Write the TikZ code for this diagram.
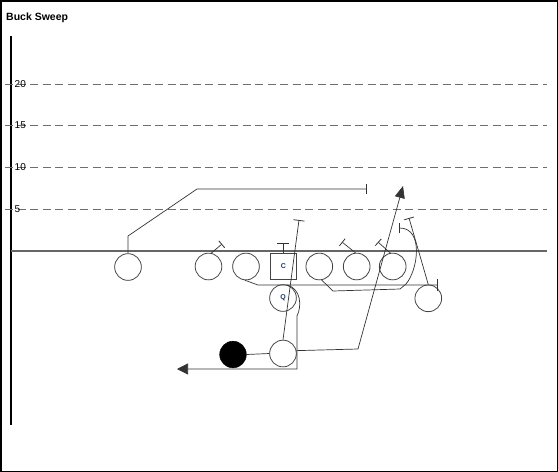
\documentclass[tikz,border=0pt]{standalone}
\usepackage{fontspec}
\setmainfont{Liberation Sans}
\usetikzlibrary{arrows.meta}
\definecolor{gridgray}{HTML}{6E6E6E}
\definecolor{losgray}{HTML}{666666}
\definecolor{playline}{HTML}{444444}
\definecolor{routeline}{HTML}{333333}
\definecolor{lblblue}{HTML}{1F3A66}
\tikzset{
  player/.style={circle, draw=playline, line width=0.8pt, fill=white, minimum size=26.7pt, inner sep=0pt},
  ballcarrier/.style={circle, draw=black, fill=black, minimum size=26.7pt, inner sep=0pt},
  centerbox/.style={rectangle, draw=playline, line width=0.8pt, fill=white, minimum size=26.5pt, inner sep=0pt, font=\fontsize{7}{8}\selectfont\bfseries, text=lblblue},
  qblabel/.style={font=\fontsize{7}{8}\selectfont\bfseries, text=lblblue},
  route/.style={draw=routeline, line width=0.7pt},
  blk/.style={route, -{Bar[width=#1, line width=0.8pt]}},
  blk/.default=10pt,
  runarrow/.style={route, -{Triangle[length=12pt, width=10pt]}},
  yardline/.style={draw=gridgray, line width=0.9pt, dash pattern=on 8pt off 4.5pt},
  yardlbl/.style={anchor=west, inner sep=0pt, font=\fontsize{10}{12}\selectfont, text=black},
}
\begin{document}
\begin{tikzpicture}[x=1pt, y=-1pt]
\useasboundingbox (0,0) rectangle (558,472);
% frame
\draw[line width=1.5pt] (0.75,0.75) rectangle (557.25,471.25);
% title
\node[anchor=base west, inner sep=0pt, font=\fontsize{10.5}{12}\selectfont\bfseries] (title) at (6,20) {Buck Sweep};
% axis
\draw[line width=1.2pt] (11,36) -- (11,425);
% yard lines
\foreach \yy/\lbl in {84/20,125/15,167/10,209/5}{
  \draw[yardline] (5,\yy) -- (547,\yy);
  \node[yardlbl] at (14.5,\yy) {\lbl};
}
% line of scrimmage
\draw[draw=losgray, line width=1.5pt] (11,251) -- (547,251);

% running back path (hidden under fullback)
\node[ballcarrier] (RB) at (233,354.5) {};
\node[player] (FB) at (283,353.5) {};
\draw[route] (RB.east) -- (FB.west);

% players
\node[player] (WR) at (128,267) {};
\node[player] (LT) at (208.5,266.5) {};
\node[player] (LG) at (246,266.5) {};
\node[centerbox] (C) at (283.3,266.5) {C};
\node[player] (RG) at (319.3,266.5) {};
\node[player] (RT) at (356.7,266.5) {};
\node[player] (TE) at (392.7,266.5) {};
\node[player] (WG) at (428.3,298.3) {};
\node[player] (Q) at (283,298) {};
\node[qblabel] (Ql) at (283,298) {Q};

% coordinates for route ends
\coordinate (wr1) at (128,236);
\coordinate (wr2) at (197,189);
\coordinate (wrE) at (367,189);
\coordinate (ltE) at (222,244);
\coordinate (cE) at (283.3,243);
\coordinate (rtE) at (342,242);
\coordinate (teE) at (378,242);
\coordinate (wgE) at (409,218);
\coordinate (lg1) at (258,285);
\coordinate (lgE) at (438,285);
\coordinate (rg1) at (333,291);
\coordinate (rg2) at (400,289);
\coordinate (rg3) at (406,284);
\coordinate (rgE) at (399,228);
\coordinate (fbE) at (299,220);
\coordinate (sw1) at (358,349);
\coordinate (swE) at (403,186);
\coordinate (qb1) at (297,316);
\coordinate (qb2) at (297,369);
\coordinate (qbE) at (177,369);

% routes
\draw[blk] (WR.north) -- (wr1) -- (wr2) -- (wrE);
\draw[blk=9pt] (LT.78) -- (ltE);
\draw[blk=12pt] (C.north) -- (cE);
\draw[blk=9pt] (RT.95) -- (rtE);
\draw[blk=9pt] (TE.100) -- (teE);
\draw[blk] (WG.north) -- (wgE);
\draw[blk=12pt] (LG.-95) -- (lg1) -- (lgE);
\draw[blk=10pt] (RG.-80) -- (rg1) -- (rg2) -- (rg3) .. controls (418,270) and (424,228) .. (rgE);
\draw[blk=11pt] (FB.north) -- (fbE);
\draw[runarrow] (FB.12) -- (sw1) -- (swE);
\draw[route, -{Triangle[length=11pt, width=11pt]}] (Q.72) .. controls (301,289) and (302,306) .. (qb1) -- (qb2) -- (qbE);
\end{tikzpicture}
\end{document}
